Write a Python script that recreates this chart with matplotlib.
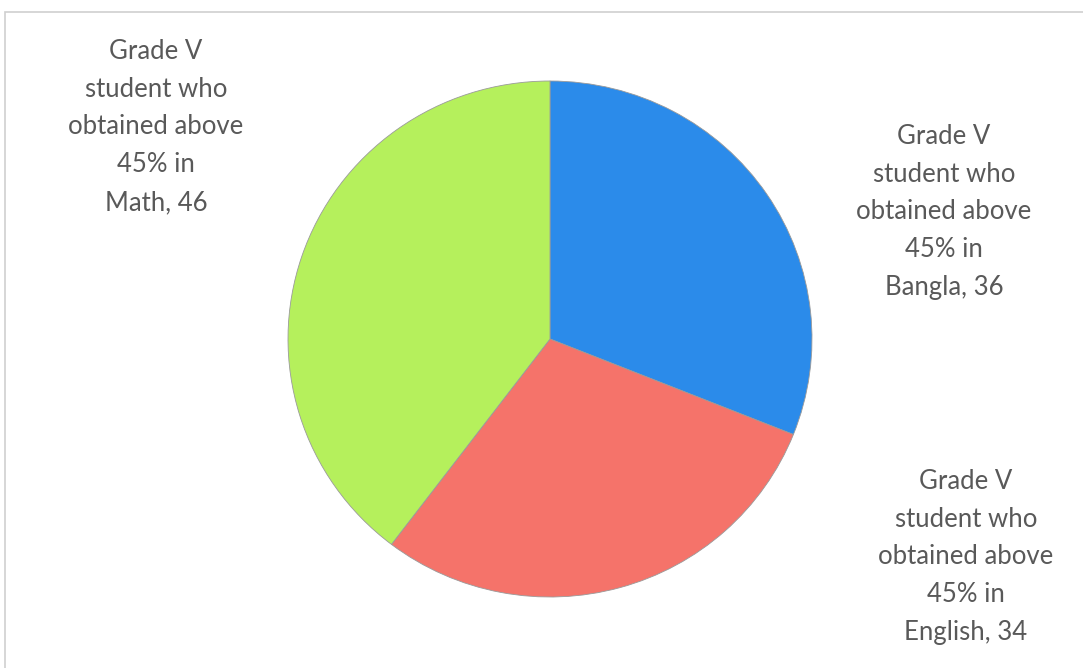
import matplotlib
matplotlib.use("Agg")
import matplotlib.pyplot as plt
from matplotlib.patches import Rectangle

# datos
materias = ["Bangla", "English", "Math"]
valores = [36, 34, 46]
colores = ["#2b8bea", "#f5736a", "#b5f05c"]
prefijo = "Grade V\nstudent who\nobtained above\n45% in\n"

plt.rcParams['font.family'] = ['Lato', 'DejaVu Sans']

W, H = 1083, 668
fig = plt.figure(figsize=(W / 100, H / 100), dpi=100)

# marco gris claro
fig.patches.append(Rectangle((5 / W, -0.01), 1.0, 1 - 12 / H + 0.01,
                             transform=fig.transFigure, fill=False,
                             edgecolor="#cfcfcf", linewidth=1.2))

# pastel (centro y radios en pixeles)
cx, cy, rx, ry = 550, 339, 262, 258
ax = fig.add_axes([(cx - rx) / W, 1 - (cy + ry) / H, 2 * rx / W, 2 * ry / H])
ax.pie(valores, colors=colores, startangle=90, counterclock=False,
       radius=1.0, wedgeprops=dict(linewidth=0.6, edgecolor="#9a9a9a"))
ax.set_xlim(-1, 1)
ax.set_ylim(-1, 1)
ax.set_aspect("auto")
ax.axis("off")

# etiquetas (x, y centro en pixeles)
posiciones = {"Bangla": (944, 212), "English": (966, 557), "Math": (156, 127)}
for m, v in zip(materias, valores):
    px, py = posiciones[m]
    fig.text(px / W, 1 - py / H, prefijo + f"{m}, {v}",
             ha="center", va="center", fontsize=18.5, color="#595959",
             linespacing=1.64)

fig.savefig("out.png", dpi=100)
